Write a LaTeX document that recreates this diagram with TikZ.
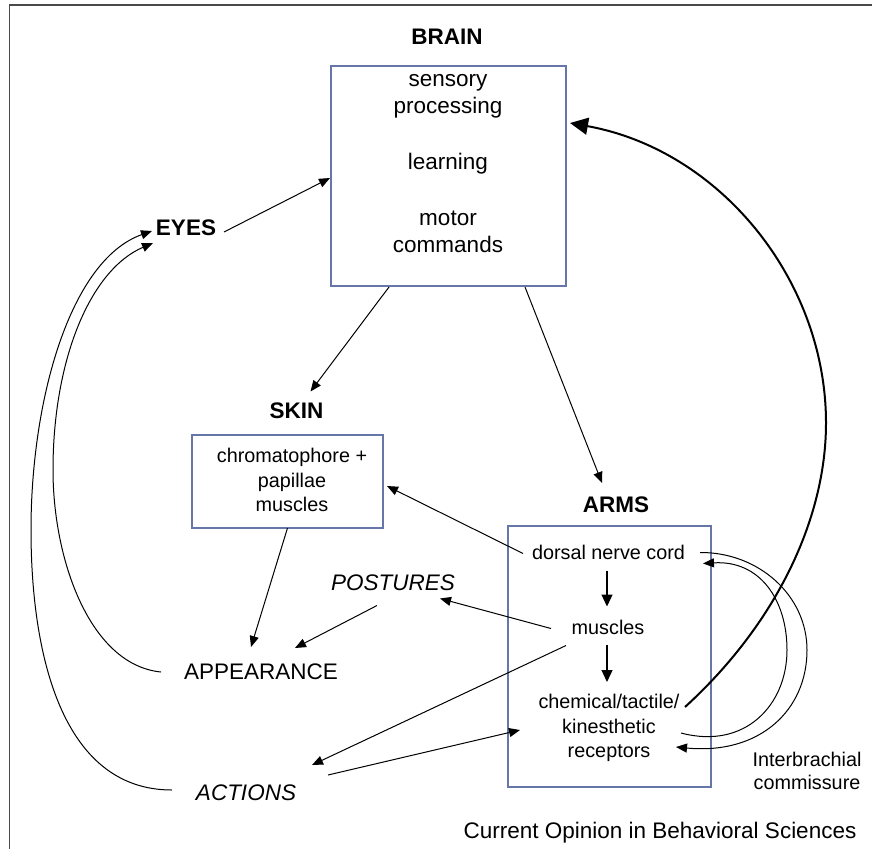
\documentclass[tikz,border=0pt]{standalone}
\usepackage{fontspec}
\setmainfont{Liberation Sans}
\usetikzlibrary{arrows.meta,calc}
\definecolor{boxc}{HTML}{6676A8}
\definecolor{framec}{HTML}{4A4A4A}
\begin{document}
\begin{tikzpicture}[x=1pt,y=-1pt,
  bigtxt/.style={font=\fontsize{22.5}{27}\selectfont, inner sep=0pt, align=center},
  boldlbl/.style={font=\fontsize{22.5}{27}\selectfont\bfseries, inner sep=0pt},
  itlbl/.style={font=\fontsize{22.5}{27}\selectfont\itshape, inner sep=0pt},
  smalltxt/.style={font=\fontsize{19.8}{24.5}\selectfont, inner sep=0pt, align=center},
  boxnode/.style={draw=boxc, line width=1.1pt, inner sep=0pt, outer sep=0pt},
  arr/.style={-{Triangle[length=11pt,width=9pt]}, line width=1pt},
  vertarr/.style={-{Triangle[length=12pt,width=11pt]}, line width=1.3pt},
  bigarr/.style={-{Triangle[length=18pt,width=17pt]}, line width=2pt},
]
\useasboundingbox (0,0) rectangle (872,849);
\draw[framec, line width=1.5pt] (9.5,849) -- (9.5,5) -- (872,5);

% nodes
\node[boldlbl] (brainlbl) at (447,37) {BRAIN};
\node[boxnode, minimum width=235pt, minimum height=220pt] (brain) at (448.5,176) {};
\node[bigtxt] (braintxt) at (448,163.5) {sensory\\processing\\[29pt]learning\\[29pt]motor\\commands};

\node[boldlbl] (eyes) at (186,228) {EYES};

\node[boldlbl] (skinlbl) at (296.5,410.5) {SKIN};
\node[boxnode, minimum width=191pt, minimum height=93pt] (skin) at (287.5,481.5) {};
\node[smalltxt] (skintxt) at (292,480) {chromatophore +\\papillae\\muscles};

\node[boldlbl] (armslbl) at (616,505) {ARMS};
\node[boxnode, minimum width=203pt, minimum height=261pt] (arms) at (609.5,656.5) {};
\node[smalltxt] (dorsal) at (608.5,552.5) {dorsal nerve cord};
\node[smalltxt] (muscles) at (608,627.5) {muscles};
\node[smalltxt] (recept) at (609,728) {chemical/tactile/\\kinesthetic\\receptors};

\node[itlbl] (postures) at (393,582.5) {POSTURES};
\node[bigtxt] (appearance) at (261,672) {APPEARANCE};
\node[itlbl] (actions) at (246,793) {ACTIONS};

\node[smalltxt, font=\fontsize{19.8}{23.5}\selectfont] (comm) at (807,771) {Interbrachial\\commissure};
\node[bigtxt, anchor=base] (caption) at (660,838) {Current Opinion in Behavioral Sciences};

% connectors
\draw[arr] ($(eyes)+(38,4)$) -- ($(brain.west)+(-1,2)$);
\draw[arr] ($(brain.south west)+(58,1)$) -- ($(skinlbl)+(14,-19)$);
\draw[arr] ($(brain.south west)+(194,1)$) -- ($(armslbl)+(-14,-22)$);
\draw[arr] ($(dorsal)+(-85.5,1)$) -- ($(skin.east)+(4,4.5)$);
\draw[vertarr] ($(dorsal)+(-1.5,18)$) -- ($(muscles)+(-1,-21)$);
\draw[vertarr] ($(muscles)+(-1,17)$) -- ($(recept)+(-2,-46)$);
\draw[arr] ($(muscles)+(-57,1)$) -- ($(postures)+(47,16)$);
\draw[arr] ($(postures)+(-16,23)$) -- ($(appearance)+(34,-24)$);
\draw[arr] (skin.south) -- ($(appearance)+(-10,-25)$);
\draw[arr] ($(muscles)+(-42,18)$) -- ($(actions)+(66,-28)$);
\draw[arr] ($(actions)+(82,-18)$) -- ($(recept)+(-89,2)$);

% curved feedback to eyes
\draw[arr] ($(appearance)+(-100,0)$) .. controls (90,665) and (53,560) .. (53,470)
  .. controls (53,360) and (90,270) .. ($(eyes)+(-33,15)$);
\draw[arr] ($(actions)+(-74,-3)$) .. controls (60,790) and (31,650) .. (31,530)
  .. controls (31,400) and (70,260) .. ($(eyes)+(-34,3)$);

% receptors to brain
\draw[bigarr] ($(recept)+(76,-21)$) .. controls (775,625) and (826,520) .. (826,423)
  .. controls (826,280) and (720,150) .. ($(brain.north east)+(4,57)$);

% interbrachial commissure
\draw[arr] ($(dorsal)+(91.5,0)$) .. controls (758,552) and (807,595) .. (807,650)
  .. controls (807,710) and (760,755) .. ($(recept)+(67,19)$);
\draw[arr] ($(recept)+(72,5)$) .. controls (745,750) and (787,705) .. (787,650)
  .. controls (787,600) and (760,560) .. ($(dorsal)+(94.5,11)$);
\end{tikzpicture}
\end{document}
